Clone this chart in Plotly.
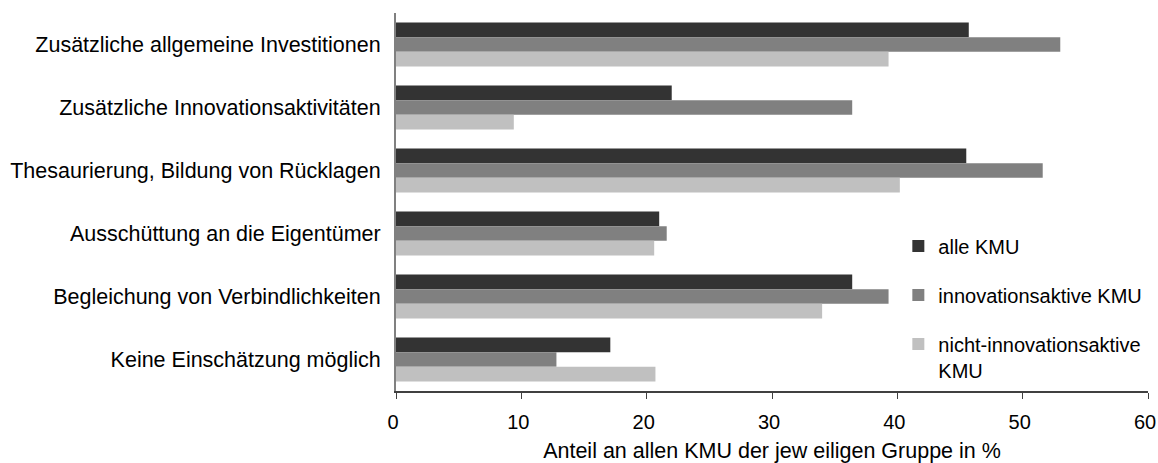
import plotly.graph_objects as go

categories = [
    "Zusätzliche allgemeine Investitionen",
    "Zusätzliche Innovationsaktivitäten",
    "Thesaurierung, Bildung von Rücklagen",
    "Ausschüttung an die Eigentümer",
    "Begleichung von Verbindlichkeiten",
    "Keine Einschätzung möglich",
]
alle_kmu = [45.7, 22.0, 45.5, 21.0, 36.4, 17.1]
innovationsaktive_kmu = [53.0, 36.4, 51.6, 21.6, 39.3, 12.8]
nicht_innovationsaktive_kmu = [39.3, 9.4, 40.2, 20.6, 34.0, 20.7]

series_names = ["alle KMU", "innovationsaktive KMU", "nicht-innovationsaktive<br>KMU"]
series_values = [alle_kmu, innovationsaktive_kmu, nicht_innovationsaktive_kmu]
series_colors = ["#333333", "#808080", "#c0c0c0"]

x_ticks = [0, 10, 20, 30, 40, 50, 60]

FONT = "Liberation Sans, Arial, sans-serif"

fig = go.Figure()
for i, (name, vals, col) in enumerate(zip(series_names, series_values, series_colors)):
    fig.add_trace(go.Bar(
        y=categories, x=vals, name=name, orientation="h",
        marker=dict(color=col, line=dict(width=0)),
        legendgroup=f"g{i}",
    ))

fig.update_layout(
    width=1158, height=463,
    margin=dict(l=396, r=10, t=13, b=72, autoexpand=False),
    barmode="group", bargap=0.30, bargroupgap=0,
    plot_bgcolor="white", paper_bgcolor="white",
    font=dict(family=FONT, size=20, color="#000000"),
    showlegend=True,
    legend=dict(
        x=0.668, y=0.435, xanchor="left", yanchor="top",
        font=dict(family=FONT, size=20, color="#000000"),
        bgcolor="rgba(0,0,0,0)", tracegroupgap=20,
        itemwidth=30, traceorder="grouped", valign="top",
    ),
    xaxis=dict(
        range=[0, 60.0001], tickvals=x_ticks, ticktext=[str(t) for t in x_ticks],
        showgrid=False, zeroline=False, automargin=False,
        showline=True, linecolor="#404040", linewidth=1.5,
        ticks="outside", ticklen=6, tickcolor="#404040",
        tickfont=dict(family=FONT, size=20, color="#000000"),
        ticklabelstandoff=6, ticklabeloverflow="allow", ticklabelshift=-3,
        title=dict(text="Anteil an allen KMU der jew eiligen Gruppe in %",
                   font=dict(family=FONT, size=21.5, color="#000000"), standoff=17),
    ),
    yaxis=dict(
        autorange="reversed", showgrid=False, zeroline=False, automargin=False,
        showline=True, linecolor="#808080", linewidth=2,
        ticks="", ticklabelstandoff=9,
        tickfont=dict(family=FONT, size=21.5, color="#000000"),
    ),
)

fig.write_html(
    "out.html",
    config={"displayModeBar": False},
    post_script="document.body.style.margin='0';document.body.style.padding='0';"
                "document.documentElement.style.overflow='hidden';",
)
